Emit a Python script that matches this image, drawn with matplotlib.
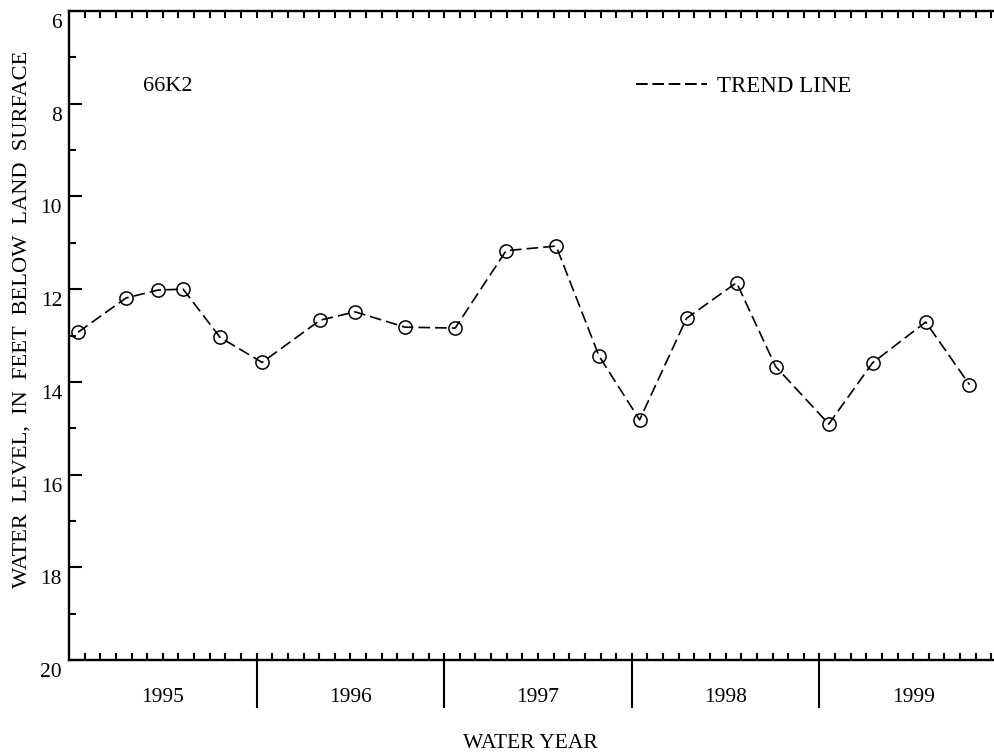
import numpy as np
import matplotlib.pyplot as plt
from matplotlib.lines import Line2D
from matplotlib.transforms import ScaledTranslation

plt.rcParams['font.family'] = 'Liberation Serif'

# months since start of water year 1995 (Oct 1, 1994)
months = [0.58, 3.65, 5.69, 7.3, 9.66, 12.35, 16.06, 18.3, 21.5, 24.7, 27.96,
          31.16, 33.9, 36.5, 39.5, 42.7, 45.2, 48.6, 51.4, 54.8, 57.6]
level = [12.93, 12.19, 12.02, 12.0, 13.04, 13.58, 12.67, 12.49, 12.82, 12.84, 11.17,
         11.07, 13.44, 14.82, 12.63, 11.86, 13.67, 14.91, 13.59, 12.71, 14.06]
years = ['1995', '1996', '1997', '1998', '1999']
well = '66K2'

W, H = 995, 754
fig = plt.figure(figsize=(W / 100, H / 100), dpi=100)
# axes runs a little past the right edge of the page
ax = fig.add_axes([69 / W, (H - 660) / H, 938 / W, 649 / H])

fs = 15.5
ax.plot(months, level, color='black', lw=1.2, dashes=(7, 3),
        marker='o', ms=9.5, mfc='none', mec='black', mew=1.1)

ax.set_xlim(0, 60)
ax.set_ylim(20, 6)

for s in ['left', 'bottom', 'top']:
    ax.spines[s].set_linewidth(1.7)
ax.spines['right'].set_visible(False)

ax.set_xticks(np.arange(1, 60))
ax.tick_params(axis='x', which='major', direction='in', length=5, width=1.5,
               top=True, bottom=True, labelbottom=False)
ax.set_yticks(np.arange(6, 21, 2))
ax.set_yticks(np.arange(7, 20, 2), minor=True)
ax.tick_params(axis='y', which='major', direction='in', length=9.5, width=1.5,
               labelsize=fs, pad=5)
ax.tick_params(axis='y', which='minor', direction='in', length=5, width=1.5)
shift = ScaledTranslation(0, -10 / 100, fig.dpi_scale_trans)
for lab in ax.get_yticklabels():
    lab.set_transform(lab.get_transform() + shift)

# year dividers below the axis and year names
xt = ax.get_xaxis_transform()
for i, yr in enumerate(years):
    if i > 0:
        ax.plot([12 * i, 12 * i], [0, -47 / 649], color='black', lw=1.5,
                transform=xt, clip_on=False)
    ax.text(12 * i + 6, -37 / 649, yr, transform=xt, ha='center', va='center',
            fontsize=fs)

ax.text(0.079, 0.884, well, transform=ax.transAxes, ha='left', va='center',
        fontsize=fs + 0.5)

proxy = Line2D([], [], color='black', lw=1.4, dashes=(6, 2.4))
ax.legend([proxy], ['TREND LINE'], loc='center left',
          bbox_to_anchor=(0.6045, 0.884), frameon=False, fontsize=16.5,
          borderpad=0, borderaxespad=0, handlelength=3.1, handletextpad=0.42)

fig.text(530 / W, 1 - 743 / H, 'WATER YEAR', ha='center', va='center',
         fontsize=fs)
fig.text(22 / W, 1 - 319 / H, 'WATER  LEVEL,  IN  FEET  BELOW  LAND  SURFACE',
         rotation=90, ha='center', va='center', fontsize=16.2)

fig.savefig('out.png', dpi=100)
